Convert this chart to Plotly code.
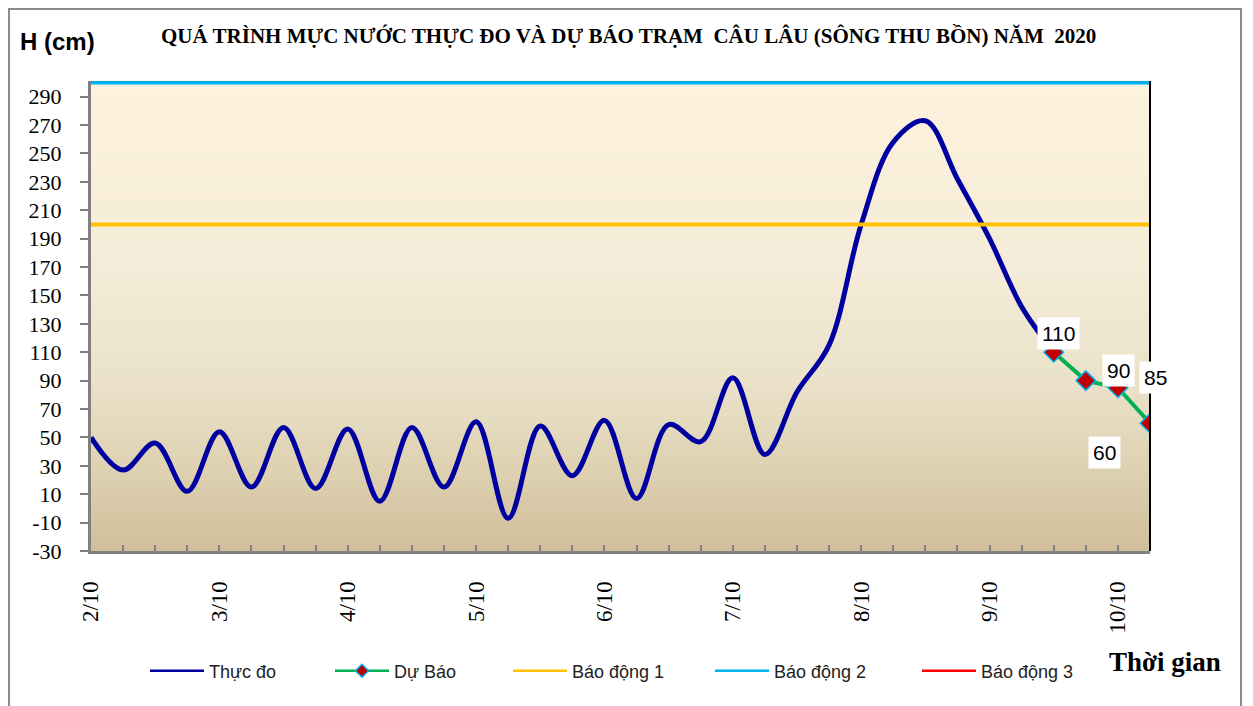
import plotly.graph_objects as go

# ---------------- data ----------------
day_labels = ["2/10", "3/10", "4/10", "5/10", "6/10", "7/10", "8/10", "9/10", "10/10"]
steps_per_day = 4
n_points = 34

observed = [50, 27, 46, 12, 54, 15, 57, 14, 56, 5, 57, 15, 61, -7, 58, 23,
            62, 7, 59, 47, 92, 38, 82, 115, 200, 258, 273, 232, 190, 142, 110]
forecast_idx = [30, 31, 32, 33]
forecast = [110, 90, 85, 60]

alarm1 = 200
alarm2 = 300
alarm3 = 400

y_ticks = list(range(-30, 300, 20))
y_tick_text = [str(v) for v in y_ticks]

# ---------------- layout geometry (figure px; page has an 8px body margin) ----------------
OFF = 8
W, H = 1253, 706
L, R, T, B = 91 - OFF, 1150 - OFF, 81 - OFF, 551 - OFF
pw, ph = R - L, B - T


def px(page_x):
    return (page_x - OFF - L) / pw


def py(page_y):
    return (B - (page_y - OFF)) / ph


x_all = list(range(n_points))
x_obs = list(range(len(observed)))

BLUE, GREEN, YELLOW, CYAN, RED = "#0000A0", "#00B050", "#FFC000", "#00B0F0", "#FF0000"

fig = go.Figure()

fig.add_trace(go.Scatter(x=x_obs, y=observed, mode="lines", name="Thực đo", showlegend=False,
                         line=dict(color=BLUE, width=5, shape="spline", smoothing=1.0)))
fig.add_trace(go.Scatter(x=x_all, y=[alarm1] * n_points, mode="lines", name="Báo động 1",
                         showlegend=False, line=dict(color=YELLOW, width=4)))
fig.add_trace(go.Scatter(x=x_all, y=[alarm2] * n_points, mode="lines", name="Báo động 2",
                         showlegend=False, line=dict(color=CYAN, width=4)))
fig.add_trace(go.Scatter(x=x_all, y=[alarm3] * n_points, mode="lines", name="Báo động 3",
                         showlegend=False, line=dict(color=RED, width=3)))
fig.add_trace(go.Scatter(x=forecast_idx, y=forecast, mode="lines+markers", name="Dự Báo",
                         showlegend=False, line=dict(color=GREEN, width=4),
                         marker=dict(symbol="diamond", size=15, color="#C00000",
                                     line=dict(color=CYAN, width=1.5))))

# legend-only entries (thin lines like the original legend), each in its own legend box
legend_items = [
    ("Thực đo", dict(color=BLUE, width=2.5), None, 145),
    ("Dự Báo", dict(color=GREEN, width=2.5),
     dict(symbol="diamond", size=10, color="#C00000", line=dict(color=CYAN, width=1.5)), 330),
    ("Báo động 1", dict(color=YELLOW, width=2.5), None, 508),
    ("Báo động 2", dict(color=CYAN, width=2.5), None, 710),
    ("Báo động 3", dict(color=RED, width=2.5), None, 917),
]
legend_layout = {}
for k, (name, ln, mk, x0) in enumerate(legend_items):
    lid = "legend" if k == 0 else f"legend{k + 1}"
    fig.add_trace(go.Scatter(x=[None], y=[None], name=name, legend=lid,
                             mode="lines+markers" if mk else "lines",
                             line=ln, marker=mk if mk else None, showlegend=True))
    legend_layout[lid] = dict(orientation="h", x=px(x0), y=py(671), xanchor="left", yanchor="middle",
                              font=dict(family="Liberation Sans, Arial", size=18, color="#222"),
                              itemwidth=54, bgcolor="rgba(0,0,0,0)", borderwidth=0)

# gradient plot background


def hex2rgb(h):
    h = h.lstrip("#")
    return [int(h[i:i + 2], 16) for i in (0, 2, 4)]


stops = [(0.0, "#CFBE99"), (0.15, "#DCCFAF"), (0.35, "#EAE1C8"),
         (0.6, "#F4ECD8"), (1.0, "#FDF2DD")]
nb = 80
shapes = []
for i in range(nb):
    f = (i + 0.5) / nb
    for j in range(len(stops) - 1):
        if stops[j][0] <= f <= stops[j + 1][0]:
            a, ca = stops[j]
            b, cb = stops[j + 1]
            t = (f - a) / (b - a)
            c1, c2 = hex2rgb(ca), hex2rgb(cb)
            c = [round(c1[k] + (c2[k] - c1[k]) * t) for k in range(3)]
            break
    shapes.append(dict(type="rect", xref="x domain", yref="y domain",
                       x0=0, x1=1, y0=i / nb, y1=(i + 1) / nb + 0.002,
                       fillcolor=f"rgb({c[0]},{c[1]},{c[2]})", line=dict(width=0),
                       layer="below"))

# right border of plot
shapes.append(dict(type="line", xref="x domain", yref="y domain", x0=1, x1=1, y0=0, y1=1,
                   line=dict(color="black", width=2)))
# outer frame
shapes.append(dict(type="rect", xref="paper", yref="paper",
                   x0=(1 - L) / pw, x1=(1233 - L) / pw,
                   y0=(B - 720) / ph, y1=(B - 1) / ph,
                   line=dict(color="#8C8C8C", width=2), fillcolor="rgba(0,0,0,0)"))

annotations = []
# data labels
label_shift = [(5, 19), (33, 10), (38, 10), (-46, -29)]
for xi, yi, (dx, dy) in zip(forecast_idx, forecast, label_shift):
    annotations.append(dict(x=xi, y=yi, xref="x", yref="y", text=str(yi), showarrow=False,
                            xanchor="center", yanchor="middle",
                            xshift=dx, yshift=dy, bgcolor="white", borderpad=4,
                            font=dict(family="Liberation Sans, Arial", size=21, color="black")))

annotations.append(dict(xref="paper", yref="paper", x=px(628), y=py(36), xanchor="center", yanchor="middle",
                        text="<b>QUÁ TRÌNH MỰC NƯỚC THỰC ĐO VÀ DỰ BÁO TRẠM  CÂU LÂU (SÔNG THU BỒN) NĂM  2020</b>",
                        showarrow=False, font=dict(family="Liberation Serif, Times New Roman", size=21, color="black")))
annotations.append(dict(xref="paper", yref="paper", x=px(57), y=py(42), xanchor="center", yanchor="middle",
                        text="<b>H (cm)</b>", showarrow=False,
                        font=dict(family="Liberation Sans, Arial", size=24, color="black")))
annotations.append(dict(xref="paper", yref="paper", x=px(1165), y=py(662), xanchor="center", yanchor="middle",
                        text="<b>Thời gian</b>", showarrow=False,
                        font=dict(family="Liberation Serif, Times New Roman", size=27, color="black")))

fig.update_layout(
    width=W, height=H,
    margin=dict(l=L, r=W - R, t=T, b=H - B),
    paper_bgcolor="white", plot_bgcolor="rgba(0,0,0,0)",
    shapes=shapes, annotations=annotations,
    showlegend=True,
    xaxis=dict(range=[0, n_points - 1], showgrid=False, zeroline=False,
               tickvals=[i * steps_per_day for i in range(len(day_labels))], ticktext=day_labels,
               tickangle=-90, ticks="inside", ticklen=6, tickwidth=2, tickcolor="#808080",
               minor=dict(dtick=1, ticks="inside", ticklen=6, tickwidth=2, tickcolor="#808080"),
               showline=True, linecolor="#808080", linewidth=3,
               ticklabelstandoff=18,
               tickfont=dict(family="Liberation Serif, Times New Roman", size=23, color="black")),
    yaxis=dict(range=[-30, 301], showgrid=False, zeroline=False,
               tickvals=y_ticks, ticktext=y_tick_text,
               ticks="outside", ticklen=8, tickwidth=2, tickcolor="#808080",
               showline=True, linecolor="#808080", linewidth=3, ticklabelstandoff=14,
               tickfont=dict(family="Liberation Serif, Times New Roman", size=22, color="black")),
    **legend_layout,
)

fig.write_html("out.html")
